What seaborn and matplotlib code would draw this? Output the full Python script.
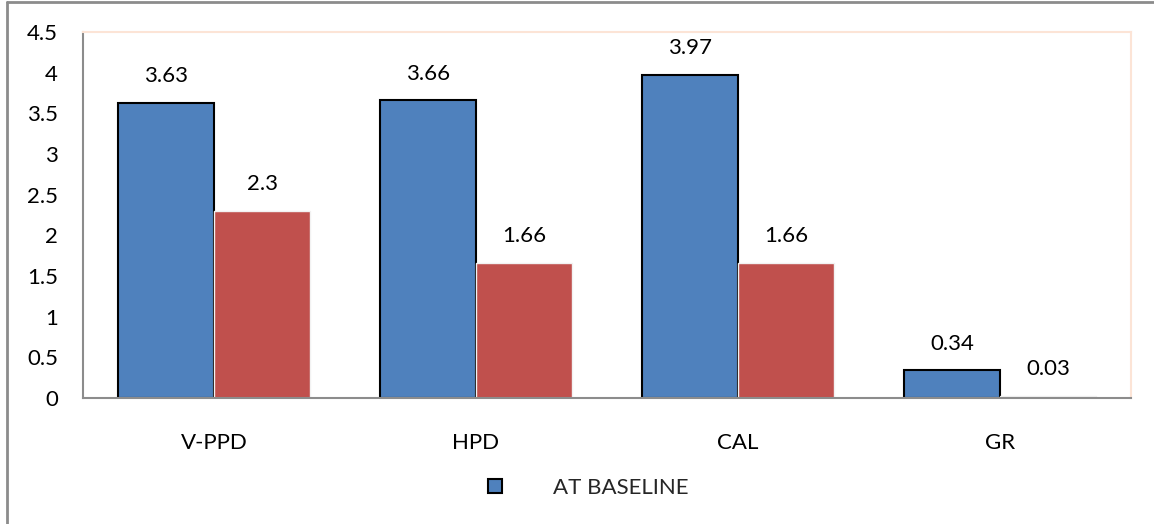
import matplotlib
matplotlib.use("Agg")
import matplotlib.pyplot as plt
import seaborn as sns
import pandas as pd
from matplotlib.lines import Line2D

categories = ["V-PPD", "HPD", "CAL", "GR"]
baseline = [3.63, 3.66, 3.97, 0.34]
followup = [2.3, 1.66, 1.66, 0.03]
series_names = ["AT BASELINE", "AFTER"]
yticks = [0, 0.5, 1, 1.5, 2, 2.5, 3, 3.5, 4, 4.5]

df = pd.DataFrame({
    "cat": categories * 2,
    "val": baseline + followup,
    "series": [series_names[0]] * 4 + [series_names[1]] * 4,
})

sns.set_theme(style="white")
plt.rcParams["font.family"] = ["Lato", "DejaVu Sans"]

FS = 16

fig = plt.figure(figsize=(11.54, 5.24), dpi=100)
ax = fig.add_axes([83/1154, 1-398/524, (1131-83)/1154, (398-32)/524])

colors = ["#4F81BD", "#C0504D"]
sns.barplot(data=df, x="cat", y="val", hue="series", palette=colors,
            width=0.733, ax=ax, legend=False, saturation=1)

n = len(categories)
for i, p in enumerate(ax.patches[:2*n]):
    if i < n:
        p.set_edgecolor("black")
        p.set_linewidth(1.5)
    else:
        p.set_edgecolor("#F2F2F2")
        p.set_linewidth(1.0)

for cont in ax.containers:
    ax.bar_label(cont, labels=[f"{v:g}" for v in cont.datavalues],
                 padding=12, fontsize=FS, color="black")

ax.set_ylim(0, 4.5)
ax.set_xlim(-0.5, 3.5)
ax.set_yticks(yticks)
ax.set_yticklabels([f"{t:g}" for t in yticks])
ax.set_xlabel("")
ax.set_ylabel("")
ax.tick_params(axis="both", length=0, labelsize=FS, colors="black")
ax.tick_params(axis="y", pad=18)
ax.tick_params(axis="x", pad=25)

for s in ["left", "bottom"]:
    ax.spines[s].set_color("#8C8C8C")
    ax.spines[s].set_linewidth(1.5)
for s in ["top", "right"]:
    ax.spines[s].set_color("#FCE4D6")
    ax.spines[s].set_linewidth(1.5)
for s in ax.spines.values():
    s.set_visible(True)

handle = Line2D([], [], marker="s", linestyle="none", markersize=10,
                markerfacecolor=colors[0], markeredgecolor="black",
                markeredgewidth=1.5)
fig.legend([handle], [series_names[0]], loc="center left",
           bbox_to_anchor=(473/1154, 1-488/524), frameon=False,
           fontsize=FS, handletextpad=1.6, borderpad=0, borderaxespad=0,
           handlelength=2.0)

# outer chart frame
fig.add_artist(Line2D([7/1154, 7/1154], [0, 1-2/524], color="#8C8C8C", lw=2,
                      transform=fig.transFigure))
fig.add_artist(Line2D([7/1154, 1], [1-2/524, 1-2/524], color="#8C8C8C", lw=2,
                      transform=fig.transFigure))

fig.savefig("out.png", dpi=100)
